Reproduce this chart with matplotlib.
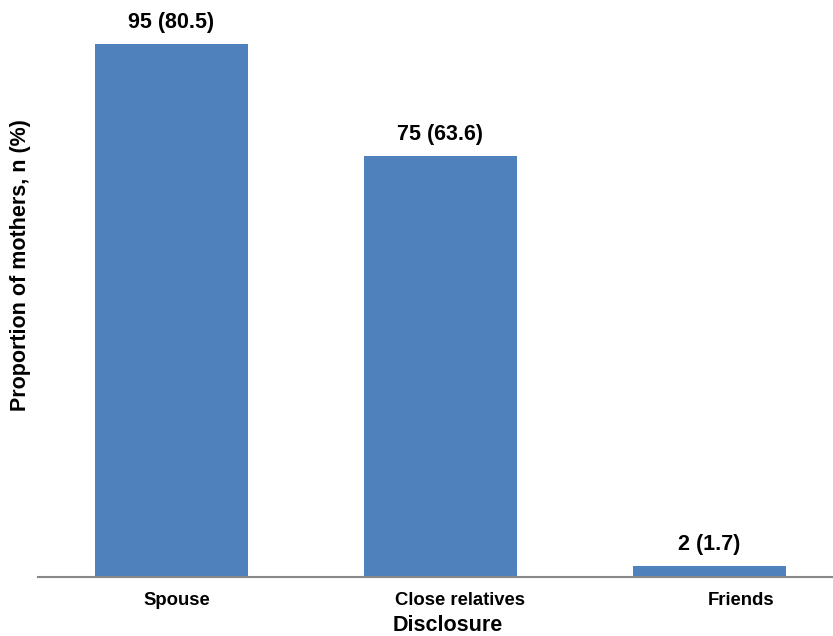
import matplotlib.pyplot as plt
import numpy as np

plt.rcParams['font.family'] = ['Liberation Sans', 'DejaVu Sans']

# data
categories = ["Spouse", "Close relatives", "Friends"]
counts = [95, 75, 2]
percents = [80.5, 63.6, 1.7]

# tick labels sit a little right of bar centres in the original
label_shift = [0.02, 0.072, 0.117]

fig = plt.figure(figsize=(8.33, 6.36), dpi=100)
ax = fig.add_axes([38 / 833, 59 / 636, 795 / 833, 561 / 636])

x = np.arange(len(categories))
bars = ax.bar(x, counts, width=0.57, color='#4F81BD')

for b, n, p in zip(bars, counts, percents):
    ax.text(b.get_x() + b.get_width() / 2, b.get_height() + 2.0,
            f"{n} ({p})", ha='center', va='bottom',
            fontsize=15.5, fontweight='bold')

ax.set_xlim(-0.496, 2.459)
ax.set_ylim(0, 100)

ax.set_xticks(x + np.array(label_shift))
ax.set_xticklabels(categories, fontsize=13.3, fontweight='bold')
ax.tick_params(axis='x', length=0, pad=11)
ax.set_yticks([])

for s in ['top', 'right', 'left']:
    ax.spines[s].set_visible(False)
ax.spines['bottom'].set_color('#888888')
ax.spines['bottom'].set_linewidth(1.5)

ax.set_xlabel("Disclosure", fontsize=15.5, fontweight='bold')
ax.set_ylabel("Proportion of mothers, n (%)", fontsize=15.5, fontweight='bold')
ax.xaxis.set_label_coords((448 - 38) / 795, -38 / 561)
ax.yaxis.set_label_coords((31 - 38) / 795, (577 - 265) / 561)

fig.savefig("out.png", dpi=100)
